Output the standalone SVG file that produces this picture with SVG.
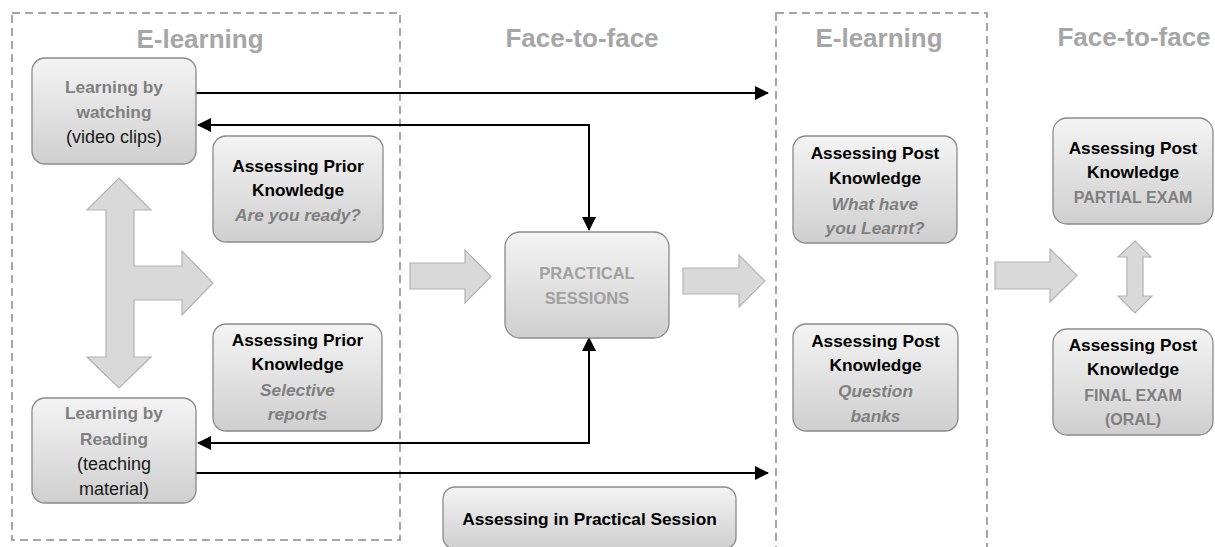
<svg xmlns="http://www.w3.org/2000/svg" width="1215" height="547" viewBox="0 0 1215 547">
<defs>
<linearGradient id="g" x1="0" y1="0" x2="0" y2="1">
<stop offset="0" stop-color="#f4f4f4"/>
<stop offset="1" stop-color="#cfcfcf"/>
</linearGradient>
<marker id="ah" viewBox="0 0 14 14" refX="13" refY="7" markerWidth="14" markerHeight="14" markerUnits="userSpaceOnUse" orient="auto-start-reverse">
<path d="M0,0 L14,7 L0,14 z" fill="#000"/>
</marker>
<style>
.zone{fill:none;stroke:#a6a6a6;stroke-width:2;stroke-dasharray:8 5}
.title{font-family:"Liberation Sans",Arial,sans-serif;font-weight:bold;font-size:26px;fill:#a6a6a6;text-anchor:middle}
.box{fill:url(#g);stroke:#8a8a8a;stroke-width:1.3}
.t{font-family:"Liberation Sans",Arial,sans-serif;font-size:17.3px;text-anchor:middle}
.b{font-weight:bold;fill:#000}
.gb{font-weight:bold;fill:#7f7f7f}
.gi{font-weight:bold;font-style:italic;fill:#7f7f7f}
.gc{font-weight:bold;fill:#a0a0a0;font-size:16.5px}
.gc2{font-weight:bold;fill:#7f7f7f;font-size:16px}
.r{fill:#1a1a1a;font-size:18px}
.big{fill:#d9d9d9;stroke:#b3b3b3;stroke-width:1.2}
.con{fill:none;stroke:#000;stroke-width:2}
</style>
</defs>
<rect width="1215" height="547" fill="#fff"/>

<g id="zones">
<rect class="zone" x="12" y="13" width="388" height="527"/>
<rect class="zone" x="776" y="13" width="211" height="560"/>
</g>

<g id="titles">
<text class="title" x="200" y="48">E-learning</text>
<text class="title" x="582" y="47">Face-to-face</text>
<text class="title" x="879" y="47">E-learning</text>
<text class="title" x="1134" y="46">Face-to-face</text>
</g>

<g id="block-arrows">
<polygon class="big" points="119,178 151,210 134,210 134,266 182,266 182,251 213,283 182,315 182,300 134,300 134,357 151,357 119,388 87,357 106,357 106,210 87,210"/>
<polygon class="big" points="410,263 465,263 465,250 491,276.5 465,303 465,289 410,289"/>
<polygon class="big" points="683,268 739,268 739,255 765,281 739,307 739,294 683,294"/>
<polygon class="big" points="995,262 1050,262 1050,249 1077,275.5 1050,302 1050,289 995,289"/>
<polygon class="big" points="1135,241 1151,257 1143,257 1143,296 1152,296 1135,313 1118,296 1127,296 1127,257 1118,257"/>
</g>

<g id="connectors">
<path class="con" d="M196,93 H768" marker-end="url(#ah)"/>
<path class="con" d="M198,125 H589 V230" marker-start="url(#ah)" marker-end="url(#ah)"/>
<path class="con" d="M198,443 H589 V338" marker-start="url(#ah)" marker-end="url(#ah)"/>
<path class="con" d="M196,473 H768" marker-end="url(#ah)"/>
</g>

<g id="learning-watching">
<rect class="box" x="32" y="58" width="164" height="106" rx="13"/>
<text class="t gb" x="114" y="93">Learning by</text>
<text class="t gb" x="114" y="118">watching</text>
<text class="t r" x="114" y="143">(video clips)</text>
</g>

<g id="prior-ready">
<rect class="box" x="213" y="136" width="170" height="106" rx="13"/>
<text class="t b" x="298" y="172">Assessing Prior</text>
<text class="t b" x="298" y="196">Knowledge</text>
<text class="t gi" x="298" y="221">Are you ready?</text>
</g>

<g id="prior-reports">
<rect class="box" x="213" y="324" width="169" height="107" rx="13"/>
<text class="t b" x="297.5" y="346">Assessing Prior</text>
<text class="t b" x="297.5" y="370">Knowledge</text>
<text class="t gi" x="297.5" y="396">Selective</text>
<text class="t gi" x="297.5" y="420">reports</text>
</g>

<g id="learning-reading">
<rect class="box" x="32" y="398" width="164" height="105" rx="13"/>
<text class="t gb" x="114" y="419">Learning by</text>
<text class="t gb" x="114" y="445">Reading</text>
<text class="t r" x="114" y="470">(teaching</text>
<text class="t r" x="114" y="495">material)</text>
</g>

<g id="practical">
<rect class="box" x="505" y="232" width="164" height="106" rx="15"/>
<text class="t gc" x="587" y="279">PRACTICAL</text>
<text class="t gc" x="587" y="304">SESSIONS</text>
</g>

<g id="assess-practical">
<rect class="box" x="443" y="487" width="293" height="62" rx="12"/>
<text class="t b" x="589.5" y="525">Assessing in Practical Session</text>
</g>

<g id="post-learnt">
<rect class="box" x="793" y="136" width="164" height="107" rx="13"/>
<text class="t b" x="875" y="159">Assessing Post</text>
<text class="t b" x="875" y="184">Knowledge</text>
<text class="t gi" x="875" y="210">What have</text>
<text class="t gi" x="875" y="234">you Learnt?</text>
</g>

<g id="post-banks">
<rect class="box" x="793" y="324" width="165" height="107" rx="13"/>
<text class="t b" x="875.5" y="347">Assessing Post</text>
<text class="t b" x="875.5" y="371">Knowledge</text>
<text class="t gi" x="875.5" y="397">Question</text>
<text class="t gi" x="875.5" y="422">banks</text>
</g>

<g id="partial-exam">
<rect class="box" x="1053" y="118" width="160" height="106" rx="14"/>
<text class="t b" x="1133" y="154">Assessing Post</text>
<text class="t b" x="1133" y="178">Knowledge</text>
<text class="t gc2" x="1133" y="203">PARTIAL EXAM</text>
</g>

<g id="final-exam">
<rect class="box" x="1053" y="329" width="160" height="106" rx="14"/>
<text class="t b" x="1133" y="351">Assessing Post</text>
<text class="t b" x="1133" y="375">Knowledge</text>
<text class="t gc2" x="1133" y="401">FINAL EXAM</text>
<text class="t gc2" x="1133" y="425">(ORAL)</text>
</g>
</svg>
